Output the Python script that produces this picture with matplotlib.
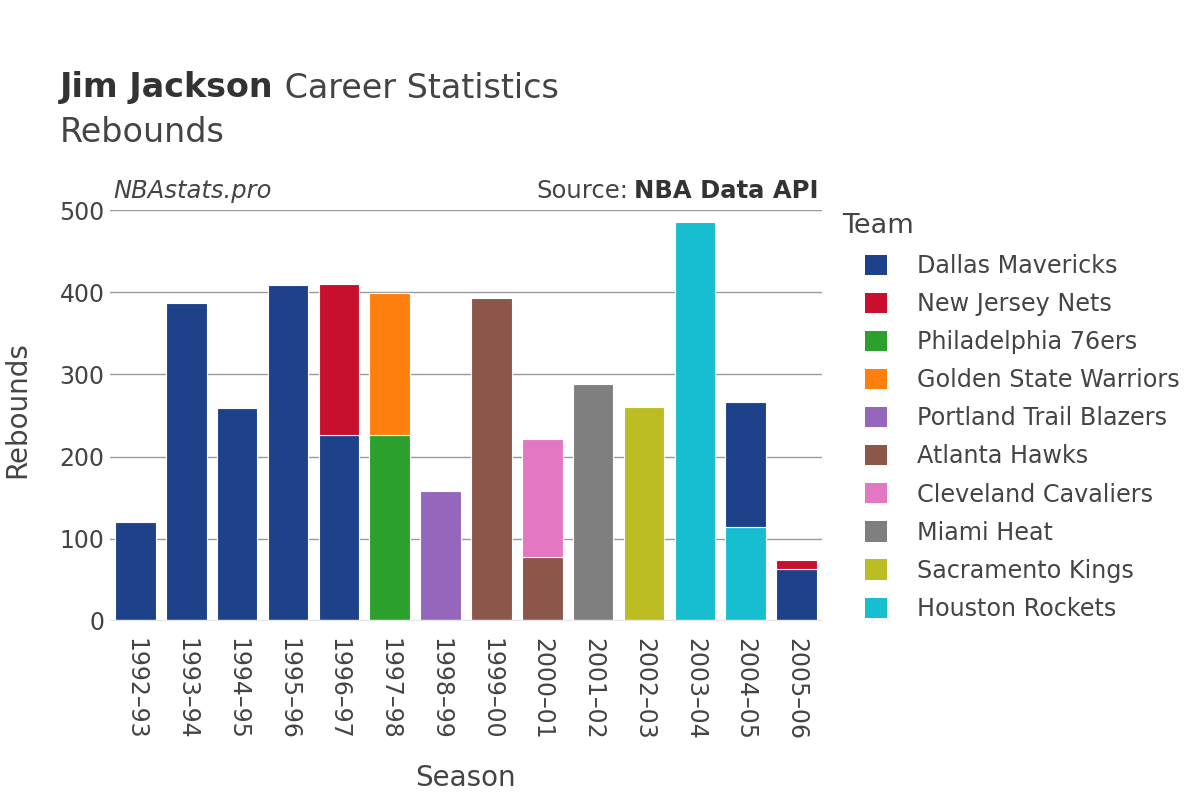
import matplotlib
matplotlib.use("Agg")
import matplotlib.pyplot as plt
from matplotlib.patches import Patch
import numpy as np

# --- data ---
seasons = ['1992–93', '1993–94', '1994–95', '1995–96', '1996–97', '1997–98', '1998–99',
           '1999–00', '2000–01', '2001–02', '2002–03', '2003–04', '2004–05', '2005–06']
# lower segment of every bar
base_team = ['Dallas Mavericks', 'Dallas Mavericks', 'Dallas Mavericks', 'Dallas Mavericks',
             'Dallas Mavericks', 'Philadelphia 76ers', 'Portland Trail Blazers', 'Atlanta Hawks',
             'Atlanta Hawks', 'Miami Heat', 'Sacramento Kings', 'Houston Rockets',
             'Houston Rockets', 'Dallas Mavericks']
base_reb = [120, 387, 259, 409, 226, 226, 158, 393, 78, 288, 260, 486, 114, 63]
# upper segment (second team in the same season)
top_team = [None, None, None, None, 'New Jersey Nets', 'Golden State Warriors', None, None,
            'Cleveland Cavaliers', None, None, None, 'Dallas Mavericks', 'New Jersey Nets']
top_reb = [0, 0, 0, 0, 184, 173, 0, 0, 144, 0, 0, 0, 153, 11]

teams = ['Dallas Mavericks', 'New Jersey Nets', 'Philadelphia 76ers', 'Golden State Warriors',
         'Portland Trail Blazers', 'Atlanta Hawks', 'Cleveland Cavaliers', 'Miami Heat',
         'Sacramento Kings', 'Houston Rockets']
team_colors = ['#1d428a', '#c8102e', '#2ca02c', '#ff7f0e', '#9467bd',
               '#8c564b', '#e377c2', '#7f7f7f', '#bcbd22', '#17becf']
col = dict(zip(teams, team_colors))

TXT = '#444444'
plt.rcParams['font.family'] = ['DejaVu Sans']

fig = plt.figure(figsize=(12, 8), dpi=100)
ax = fig.add_axes([110/1200, 1-621/800, 712/1200, 411/800])

x = np.arange(len(seasons))
ax.bar(x, base_reb, width=0.8, color=[col[t] for t in base_team],
       edgecolor='white', linewidth=0.8, zorder=2)
for i in range(len(seasons)):
    if top_team[i]:
        ax.bar(x[i], top_reb[i], bottom=base_reb[i], width=0.8, color=col[top_team[i]],
               edgecolor='white', linewidth=0.8, zorder=2)

ax.set_xlim(-0.5, len(seasons) - 0.5)
ax.set_ylim(0, 500)
ax.set_yticks([0, 100, 200, 300, 400, 500])
ax.yaxis.grid(True, color='#9a9a9a', linewidth=1, zorder=0)
ax.axhline(0, color='#e6e6e6', linewidth=2.5, zorder=3)
for s in ax.spines.values():
    s.set_visible(False)
ax.tick_params(length=0, labelsize=17, labelcolor=TXT)
ax.tick_params(axis='y', pad=4)
ax.set_xticks(x)
ax.set_xticklabels(seasons, rotation=-90, va='top', ha='center')
ax.tick_params(axis='x', pad=12)

# axis titles
fig.text(465/1200, 1-778/800, 'Season', ha='center', va='center', fontsize=20, color=TXT)
fig.text(17/1200, 1-410/800, 'Rebounds', ha='center', va='center', rotation=90,
         fontsize=20, color=TXT)

# titles
fig.canvas.draw()
r = fig.canvas.get_renderer()
t1 = fig.text(60/1200, 1-88/800, 'Jim Jackson', fontsize=24, fontweight='bold',
              color='#333333', va='center', ha='left')
bb = t1.get_window_extent(r)
fig.text(bb.x1/1200, 1-88/800, ' Career Statistics', fontsize=24, color=TXT,
         va='center', ha='left')
fig.text(60/1200, 1-132/800, 'Rebounds', fontsize=24, color=TXT, va='center', ha='left')

fig.text(113/1200, 1-191/800, 'NBAstats.pro', fontsize=17.5, style='italic', color=TXT,
         va='center', ha='left')
s2 = fig.text(818/1200, 1-191/800, 'NBA Data API', fontsize=17.5, fontweight='bold',
              color='#333333', va='center', ha='right')
bb2 = s2.get_window_extent(r)
fig.text(bb2.x0/1200 - 0.004, 1-191/800, 'Source:', fontsize=17.5, color=TXT,
         va='center', ha='right')

# legend (title placed separately, entries indented)
fig.text(842/1200, 1-226/800, 'Team', fontsize=19.5, color=TXT, va='center', ha='left')
handles = [Patch(facecolor=col[t], edgecolor='none', label=t) for t in teams]
leg = fig.legend(handles=handles, loc='upper left',
                 bbox_to_anchor=(865/1200, 1-254/800), frameon=False,
                 fontsize=17.2, labelspacing=0.59,
                 handlelength=0.92, handleheight=0.92, handletextpad=1.25,
                 borderpad=0, borderaxespad=0)
for t in leg.get_texts():
    t.set_color(TXT)

fig.savefig('out.png', dpi=100, facecolor='white')
